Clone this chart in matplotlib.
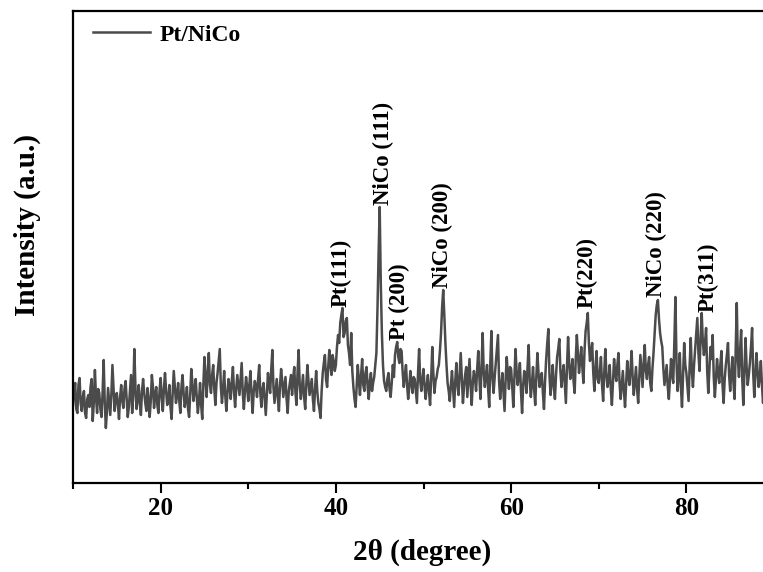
import numpy as np
import matplotlib
matplotlib.use("Agg")
import matplotlib.pyplot as plt
from matplotlib.ticker import MultipleLocator

# 2theta grid (degrees) and intensity (a.u.)
two_theta_start = 10.0
two_theta_step = 0.125
intensity = [
    # 10 - 14.875
    78, 92, 100, 74, 70, 98, 105, 80, 72, 86, 92, 70, 65, 84, 88, 76, 96, 104, 62, 80,
    113, 86, 70, 94, 90, 74, 66, 90, 123, 80, 55, 72, 95, 82, 68, 88, 118, 94, 72, 84,
    # 15 - 19.875
    90, 78, 64, 86, 98, 82, 75, 94, 102, 84, 66, 76, 92, 108, 70, 88, 134, 96, 74, 84,
    98, 80, 68, 92, 104, 90, 80, 72, 95, 84, 66, 82, 108, 96, 75, 88, 96, 78, 70, 92,
    # 20 - 24.875
    105, 86, 72, 94, 110, 92, 78, 84, 98, 76, 64, 90, 112, 96, 80, 88, 100, 82, 70, 96,
    108, 90, 76, 84, 96, 74, 66, 88, 114, 100, 82, 92, 104, 86, 70, 82, 100, 78, 64, 98,
    # 25 - 29.875
    126, 104, 86, 112, 130, 98, 90, 108, 118, 94, 78, 100, 110, 122, 134, 96, 80, 94, 112, 88,
    72, 90, 104, 96, 84, 102, 116, 92, 76, 94, 108, 98, 88, 104, 120, 90, 74, 92, 106, 96,
    # 30 - 34.875
    82, 98, 112, 88, 70, 92, 102, 96, 86, 104, 118, 90, 76, 94, 100, 84, 68, 90, 110, 98,
    90, 114, 133, 96, 80, 92, 104, 86, 72, 98, 114, 102, 86, 96, 106, 84, 70, 92, 100, 108,
    # 35 - 39.875
    88, 104, 116, 92, 78, 110, 133, 98, 84, 96, 108, 86, 74, 98, 118, 102, 88, 96, 104, 84,
    72, 94, 112, 92, 80, 74, 65, 92, 110, 120, 128, 104, 96, 116, 133, 118, 108, 128, 122, 112,
    # 40 - 44.875
    118, 136, 148, 140, 160, 168, 175, 146, 150, 162, 165, 138, 130, 118, 150, 112, 96, 84, 76, 98,
    118, 102, 88, 108, 124, 98, 92, 110, 116, 96, 84, 102, 110, 92, 100, 106, 118, 130, 175, 230,
    # 45 - 49.875
    276, 200, 150, 118, 102, 96, 92, 104, 110, 94, 86, 100, 118, 106, 128, 136, 141, 126, 120, 134,
    132, 110, 96, 108, 118, 98, 84, 96, 112, 100, 90, 106, 104, 92, 80, 110, 134, 102, 92, 104,
    # 50 - 54.875
    114, 96, 84, 98, 108, 92, 78, 104, 136, 110, 90, 102, 106, 114, 118, 132, 150, 176, 193, 168,
    140, 118, 100, 92, 82, 98, 112, 94, 76, 102, 120, 98, 88, 108, 130, 104, 80, 96, 108, 116,
    # 55 - 59.875
    86, 106, 124, 98, 78, 100, 112, 104, 92, 114, 132, 106, 84, 118, 150, 110, 96, 108, 118, 94,
    76, 120, 152, 104, 90, 106, 120, 134, 148, 102, 84, 98, 110, 90, 72, 104, 126, 108, 94, 116,
    # 60 - 64.875
    114, 96, 76, 104, 134, 112, 98, 108, 120, 92, 70, 98, 112, 104, 90, 116, 138, 102, 86, 100,
    116, 94, 78, 106, 130, 110, 96, 104, 110, 90, 74, 102, 124, 140, 154, 108, 88, 102, 118, 96,
    # 65 - 69.875
    84, 108, 126, 134, 144, 112, 96, 110, 118, 98, 80, 116, 146, 120, 104, 112, 124, 102, 90, 124,
    148, 128, 110, 122, 136, 116, 100, 132, 152, 160, 170, 140, 122, 132, 140, 110, 92, 114, 132, 104,
    # 70 - 74.875
    100, 112, 126, 98, 82, 110, 134, 108, 96, 104, 118, 94, 78, 102, 124, 110, 102, 118, 130, 100,
    84, 98, 112, 92, 76, 100, 122, 108, 98, 114, 132, 104, 88, 102, 116, 94, 80, 106, 128, 112,
    # 75 - 79.875
    96, 120, 138, 112, 104, 118, 126, 100, 92, 114, 130, 150, 168, 178, 183, 164, 150, 142, 136, 114,
    98, 108, 118, 96, 84, 104, 124, 108, 100, 140, 186, 120, 92, 110, 130, 96, 76, 108, 140, 118,
    # 80 - 84.875
    110, 96, 82, 118, 145, 112, 96, 118, 134, 150, 165, 130, 112, 146, 170, 142, 128, 140, 155, 112,
    90, 114, 136, 124, 148, 106, 86, 104, 124, 110, 100, 118, 132, 98, 80, 104, 118, 128, 140, 108,
    # 85 - 90
    92, 110, 126, 100, 84, 130, 180, 124, 106, 132, 153, 104, 78, 112, 145, 116, 98, 108, 120, 136,
    155, 110, 86, 108, 130, 112, 96, 106, 122, 98, 80, 104, 128, 112, 100, 94, 116, 104, 90, 98, 110,
]
two_theta = two_theta_start + two_theta_step * np.arange(len(intensity))

# peak labels: (text, 2theta, intensity at label base)
peak_labels = ["Pt(111)", "NiCo (111)", "Pt (200)", "NiCo (200)", "Pt(220)", "NiCo (220)", "Pt(311)"]
peak_x = [40.6, 45.4, 47.3, 52.2, 68.7, 76.6, 82.5]
peak_y = [176, 278, 143, 195, 175, 186, 171]

series_name = "Pt/NiCo"
xticks = [20, 40, 60, 80]

serif = ["Liberation Serif", "DejaVu Serif"]
plt.rcParams["font.family"] = serif
plt.rcParams["font.weight"] = "bold"

W, H = 763, 572
fig = plt.figure(figsize=(W / 100, H / 100), dpi=100)
left_px, right_px, top_px, bottom_px = 73, 774, 11, 483
ax = fig.add_axes([left_px / W, 1 - bottom_px / H, (right_px - left_px) / W, (bottom_px - top_px) / H])

ax.plot(two_theta, intensity, color="#4b4b4b", lw=1.8, label=series_name)

ax.set_xlim(10, 90)
ax.set_ylim(0, 472)
ax.xaxis.set_major_locator(plt.FixedLocator(xticks))
ax.xaxis.set_minor_locator(MultipleLocator(10))
ax.set_yticks([])
for s in ax.spines.values():
    s.set_linewidth(1.6)
ax.tick_params(axis="x", which="major", direction="out", length=7, width=1.5,
               labelsize=18, pad=3)
ax.tick_params(axis="x", which="minor", direction="out", length=4, width=1.5)
for lab in ax.get_xticklabels():
    lab.set_fontweight("bold")

for t, x, y in zip(peak_labels, peak_x, peak_y):
    ax.text(x, y, t, rotation=90, ha="center", va="bottom", fontsize=16.5,
            fontweight="bold", color="black")

fig.text(422 / W, 1 - 552 / H, "2θ (degree)", ha="center", va="center",
         fontsize=21, fontweight="bold")
fig.text(27 / W, 1 - 225 / H, "Intensity (a.u.)", ha="center", va="center",
         rotation=90, fontsize=21, fontweight="bold")

leg = ax.legend(loc="upper left", bbox_to_anchor=(6 / 701, 1 + 1 / 472), frameon=False,
                handlelength=2.4, handletextpad=0.4, borderaxespad=0.2,
                prop={"family": serif, "weight": "bold", "size": 17})
for line in leg.get_lines():
    line.set_linewidth(1.8)

fig.savefig("out.png", dpi=100)
